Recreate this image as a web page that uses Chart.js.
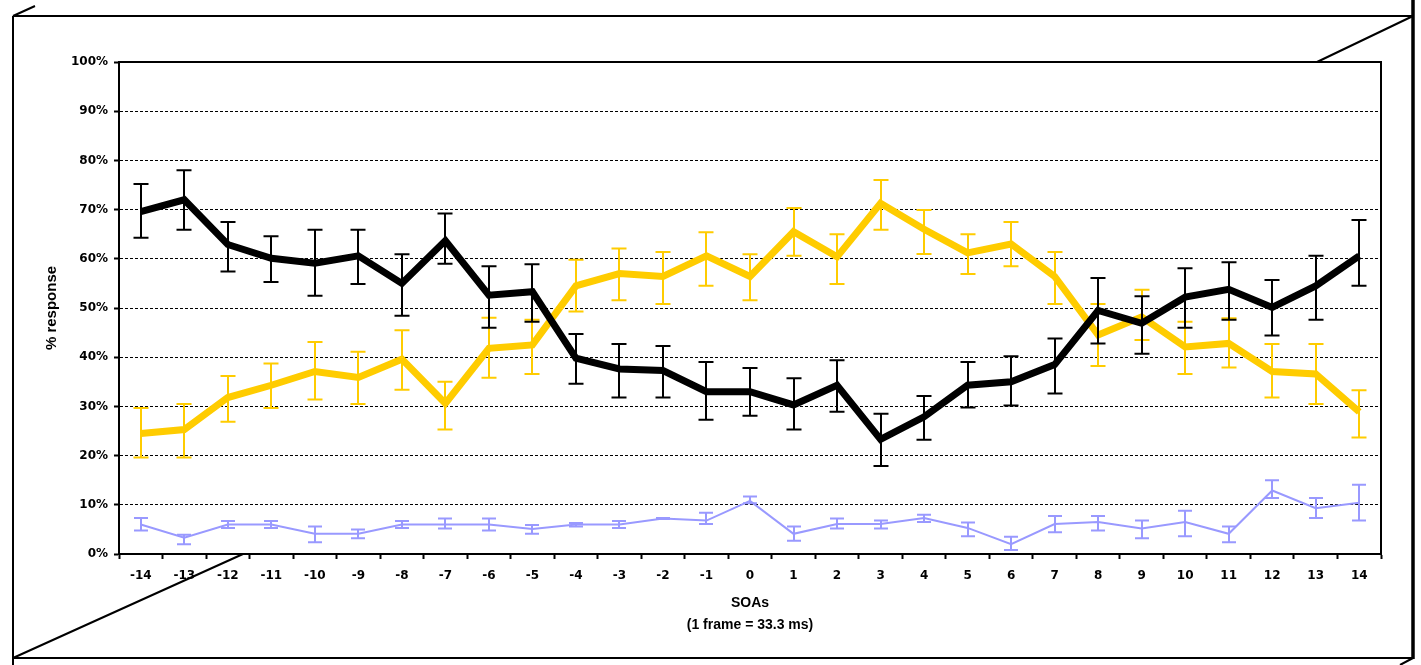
<!DOCTYPE html>
<html>
<head>
<meta charset="utf-8">
<title>% response by SOA</title>
<script src="https://cdn.jsdelivr.net/npm/chart.js@4.4.1/dist/chart.umd.min.js"></script>
<style>
    html, body { margin: 0; padding: 0; background: #fff; }
    #wrap { width: 1421px; height: 665px; }
</style>
</head>
<body>
<div id="wrap"><canvas id="soaChart" width="1421" height="665"></canvas></div>
<script>
// SOA categories (frames)
const soaLabels = [
    '-14', '-13', '-12', '-11', '-10', '-9', '-8', '-7', '-6', '-5',
    '-4', '-3', '-2', '-1', '0', '1', '2', '3', '4', '5',
    '6', '7', '8', '9', '10', '11', '12', '13', '14'
];

// Y axis tick labels (0..100 in steps of 10)
const yTickLabels = ['0%', '10%', '20%', '30%', '40%', '50%', '60%', '70%', '80%', '90%', '100%'];

// Black series: mean and error bar ends
const blackMean = [69.6, 72.0, 62.9, 60.1, 59.1, 60.6, 55.0, 63.7, 52.6, 53.3, 39.8, 37.6, 37.3, 33.0, 33.0,
    30.3, 34.3, 23.3, 27.9, 34.3, 35.0, 38.5, 49.5, 46.9, 52.2, 53.8, 50.1, 54.5, 60.6];
const blackHigh = [75.2, 78.0, 67.5, 64.6, 65.9, 65.9, 60.9, 69.2, 58.5, 58.9, 44.7, 42.7, 42.3, 39.0, 37.8,
    35.7, 39.4, 28.5, 32.1, 39.0, 40.2, 43.8, 56.1, 52.4, 58.1, 59.3, 55.7, 60.6, 67.9];
const blackLow = [64.3, 65.9, 57.4, 55.3, 52.5, 54.9, 48.4, 59.0, 46.0, 47.2, 34.6, 31.8, 31.8, 27.3, 28.1,
    25.3, 28.9, 17.9, 23.2, 29.8, 30.2, 32.6, 42.8, 40.7, 46.0, 47.6, 44.4, 47.6, 54.5];

// Yellow series
const yellowMean = [24.5, 25.3, 31.8, 34.3, 37.1, 35.9, 39.6, 30.6, 41.8, 42.5, 54.5, 57.0, 56.4, 60.6, 56.4,
    65.5, 60.4, 71.3, 66.0, 61.2, 63.0, 56.4, 44.5, 48.2, 42.1, 42.8, 37.1, 36.6, 28.9];
const yellowHigh = [29.7, 30.5, 36.2, 38.7, 43.1, 41.1, 45.5, 35.0, 48.0, 47.6, 59.8, 62.1, 61.4, 65.4, 60.9,
    70.3, 65.0, 76.0, 69.9, 65.0, 67.5, 61.4, 50.8, 53.7, 47.2, 47.9, 42.7, 42.7, 33.3];
const yellowLow = [19.6, 19.6, 26.9, 29.7, 31.4, 30.5, 33.4, 25.3, 35.8, 36.6, 49.3, 51.6, 50.8, 54.5, 51.6,
    60.6, 54.9, 65.9, 61.0, 56.9, 58.5, 50.8, 38.2, 43.5, 36.6, 37.9, 31.8, 30.5, 23.7];

// Purple (thin) series
const purpleMean = [6.0, 3.3, 6.0, 6.0, 4.1, 4.1, 6.0, 6.0, 6.0, 5.1, 6.0, 6.0, 7.2, 6.8, 10.8,
    4.1, 6.1, 6.1, 7.3, 5.3, 2.0, 6.1, 6.5, 5.2, 6.5, 4.1, 12.9, 9.3, 10.4];
const purpleHigh = [7.3, 3.9, 6.7, 6.7, 5.6, 5.0, 6.7, 7.2, 7.2, 5.9, 6.3, 6.7, 7.3, 8.4, 11.7,
    5.6, 7.2, 6.8, 8.0, 6.4, 3.5, 7.7, 7.7, 6.8, 8.8, 5.6, 15.0, 11.4, 14.1];
const purpleLow = [4.8, 2.0, 5.3, 5.3, 2.4, 3.2, 5.3, 5.2, 4.8, 4.1, 5.6, 5.3, 7.1, 6.1, 10.3,
    2.7, 5.2, 5.2, 6.5, 3.6, 0.8, 4.4, 4.8, 3.2, 3.6, 2.4, 11.4, 7.3, 6.8];

const tickFont = { family: "'DejaVu Sans', sans-serif", size: 12, weight: 'bold' };

/**
 * Error bars drawn right after each line, using the chart's own y scale
 */
const errorBarPlugin = {
    id: 'errorBars',
    afterDatasetDraw(chart, args) {
        const ds = chart.data.datasets[args.index];
        if (!ds.errHigh) return;
        const yScale = chart.scales.y;
        const ctx = chart.ctx;
        const half = ds.errCap / 2;
        ctx.save();
        ctx.strokeStyle = ds.borderColor;
        ctx.lineWidth = ds.errWidth;
        ctx.lineCap = 'butt';
        args.meta.data.forEach((pt, i) => {
            const x = Math.round(pt.x);
            const yHi = yScale.getPixelForValue(ds.errHigh[i]);
            const yLo = yScale.getPixelForValue(ds.errLow[i]);
            ctx.beginPath();
            ctx.moveTo(x, yHi);
            ctx.lineTo(x, yLo);
            ctx.moveTo(x - half, yHi);
            ctx.lineTo(x + half, yHi);
            ctx.moveTo(x - half, yLo);
            ctx.lineTo(x + half, yLo);
            ctx.stroke();
        });
        ctx.restore();
    }
};

/**
 * White page, the pseudo-3D outer frame and the solid plot-area box
 */
const framePlugin = {
    id: 'frame',
    beforeDraw(chart) {
        const ctx = chart.ctx;
        ctx.save();
        ctx.fillStyle = '#fff';
        ctx.fillRect(0, 0, chart.width, chart.height);
        ctx.strokeStyle = '#000';
        ctx.lineWidth = 2;
        ctx.beginPath();
        // outer box
        ctx.moveTo(13, 16); ctx.lineTo(1413, 16);
        ctx.moveTo(13, 16); ctx.lineTo(13, 665);
        ctx.moveTo(13, 658); ctx.lineTo(1413, 658);
        // corner diagonals
        ctx.moveTo(13, 16); ctx.lineTo(35, 6);
        ctx.moveTo(1317, 62); ctx.lineTo(1413, 16);
        ctx.moveTo(13, 658); ctx.lineTo(243, 554);
        ctx.moveTo(1413, 658); ctx.lineTo(1400, 665);
        ctx.stroke();
        ctx.lineWidth = 3.5;
        ctx.beginPath();
        ctx.moveTo(1413, 0); ctx.lineTo(1413, 659);
        ctx.stroke();
        ctx.restore();
    },
    beforeDatasetsDraw(chart) {
        const { ctx, chartArea } = chart;
        ctx.save();
        ctx.strokeStyle = '#000';
        ctx.lineWidth = 2;
        ctx.strokeRect(chartArea.left, chartArea.top, chartArea.right - chartArea.left, chartArea.bottom - chartArea.top);
        ctx.restore();
    }
};

new Chart(document.getElementById('soaChart'), {
    type: 'line',
    data: {
        labels: soaLabels,
        datasets: [
            {
                label: 'black',
                data: blackMean,
                errHigh: blackHigh,
                errLow: blackLow,
                errWidth: 2,
                errCap: 15,
                borderColor: '#000000',
                borderWidth: 7,
                pointRadius: 0,
                tension: 0
            },
            {
                label: 'yellow',
                data: yellowMean,
                errHigh: yellowHigh,
                errLow: yellowLow,
                errWidth: 2,
                errCap: 15,
                borderColor: '#FFCC00',
                borderWidth: 7,
                pointRadius: 0,
                tension: 0
            },
            {
                label: 'purple',
                data: purpleMean,
                errHigh: purpleHigh,
                errLow: purpleLow,
                errWidth: 2,
                errCap: 14,
                borderColor: '#9999FF',
                borderWidth: 2,
                pointRadius: 0,
                tension: 0
            }
        ]
    },
    options: {
        responsive: false,
        devicePixelRatio: 1,
        animation: false,
        layout: { padding: { top: 62, right: 40, left: 0, bottom: 0 } },
        plugins: {
            legend: { display: false },
            tooltip: { enabled: false }
        },
        scales: {
            x: {
                type: 'category',
                offset: true,
                grid: {
                    display: true,
                    drawOnChartArea: false,
                    drawTicks: true,
                    offset: true,
                    tickLength: 5,
                    color: '#000',
                    tickColor: '#000',
                    tickWidth: 2
                },
                border: { display: true, color: '#000', width: 2 },
                ticks: {
                    font: tickFont,
                    color: '#000',
                    padding: 10,
                    autoSkip: false,
                    maxRotation: 0
                },
                title: {
                    display: true,
                    text: ['SOAs', '(1 frame = 33.3 ms)'],
                    color: '#000',
                    font: { family: "'Liberation Sans', Arial, sans-serif", size: 14, weight: 'bold', lineHeight: 1.55 },
                    padding: { top: 0, bottom: 29 }
                },
                afterFit(scale) { scale.height = 111; }
            },
            y: {
                min: 0,
                max: 100,
                grid: {
                    color: '#000',
                    lineWidth: 1,
                    tickLength: 5,
                    tickColor: '#000',
                    tickWidth: 2
                },
                border: { display: true, color: '#000', width: 2, dash: [3, 2] },
                ticks: {
                    stepSize: 10,
                    font: tickFont,
                    color: '#000',
                    padding: 6,
                    callback: (value, index) => yTickLabels[index]
                },
                title: {
                    display: true,
                    text: '% response',
                    color: '#000',
                    font: { family: "'Liberation Sans', Arial, sans-serif", size: 15, weight: 'bold', lineHeight: 1.2 },
                    padding: { top: 43, bottom: 0 }
                },
                afterFit(scale) { scale.width = 119; }
            }
        }
    },
    plugins: [framePlugin, errorBarPlugin]
});
</script>
</body>
</html>
